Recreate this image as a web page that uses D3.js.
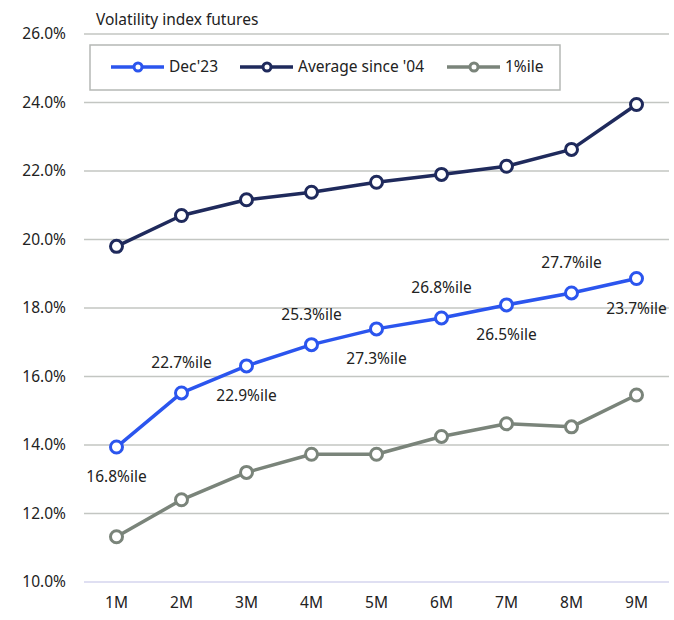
<!DOCTYPE html>
<html><head><meta charset="utf-8">
<script src="https://cdn.jsdelivr.net/npm/d3@7"></script>
<style>body{margin:0;background:#fff}text{font-family:"Noto Sans",Lato,sans-serif}</style>
</head><body><svg id="c" width="674" height="620"></svg>
<script>
const categories = ["1M","2M","3M","4M","5M","6M","7M","8M","9M"];
const dec23 = [13.94,15.52,16.31,16.93,17.39,17.71,18.09,18.44,18.86];
const average04 = [19.80,20.70,21.16,21.38,21.67,21.90,22.14,22.63,23.94];
const pct1 = [11.32,12.40,13.20,13.73,13.73,14.25,14.62,14.53,15.46];
const dec23Labels = ["16.8%ile","22.7%ile","22.9%ile","25.3%ile","27.3%ile","26.8%ile","26.5%ile","27.7%ile","23.7%ile"];
const yTicks = [10,12,14,16,18,20,22,24,26];
const seriesNames = ["Dec'23","Average since '04","1%ile"];
const colors = ["#2b55ee","#1f2a5c","#7a847a"];

const svg = d3.select("#c");
const x = d3.scaleBand().domain(categories).range([84,669]);
const y = d3.scaleLinear().domain([10,26]).range([582,34]);
const cx = d => x(d)+x.bandwidth()/2;
const FS = 15.5;

svg.append("g").selectAll("line").data(yTicks).join("line")
  .attr("x1",84).attr("x2",669).attr("y1",d=>y(d)).attr("y2",d=>y(d))
  .attr("stroke",d=>d===10?"#d4d4ee":"#c3c6c2").attr("stroke-width",1.5);

svg.append("g").selectAll("text").data(yTicks).join("text")
  .attr("x",66).attr("y",d=>y(d)).attr("dy","0.35em").attr("text-anchor","end")
  .attr("font-size",FS).attr("fill","#222").text(d=>d.toFixed(1)+"%");
svg.append("g").selectAll("text").data(categories).join("text")
  .attr("x",d=>cx(d)).attr("y",608).attr("text-anchor","middle")
  .attr("font-size",FS).attr("fill","#222").text(d=>d);

svg.append("text").attr("x",96).attr("y",25).attr("font-size",FS).attr("fill","#222").text("Volatility index futures");

const series = [dec23, average04, pct1];
const line = d3.line().x((d,i)=>cx(categories[i])).y(d=>y(d));
[2,1,0].forEach(k=>{
  const g = svg.append("g");
  g.append("path").datum(series[k]).attr("d",line).attr("fill","none")
    .attr("stroke",colors[k]).attr("stroke-width",3.5).attr("stroke-linejoin","round");
  g.selectAll("circle").data(series[k]).join("circle")
    .attr("cx",(d,i)=>cx(categories[i])).attr("cy",d=>y(d)).attr("r",6)
    .attr("fill","#fff").attr("stroke",colors[k]).attr("stroke-width",3);
});

svg.append("g").selectAll("text").data(dec23Labels).join("text")
  .attr("x",(d,i)=>cx(categories[i])).attr("y",(d,i)=>y(dec23[i])+(i%2===0?30:-30))
  .attr("dy","0.35em").attr("text-anchor","middle").attr("font-size",FS).attr("fill","#222").text(d=>d);

const lg = svg.append("g");
lg.append("rect").attr("x",90).attr("y",45).attr("width",470).attr("height",45)
  .attr("fill","#fff").attr("stroke","#b5b8b5").attr("stroke-width",1.5);
const lx = [111,240,447];
seriesNames.forEach((n,k)=>{
  lg.append("line").attr("x1",lx[k]).attr("x2",lx[k]+53).attr("y1",67).attr("y2",67)
    .attr("stroke",colors[k]).attr("stroke-width",3.5);
  lg.append("circle").attr("cx",lx[k]+27).attr("cy",67).attr("r",4)
    .attr("fill","#fff").attr("stroke",colors[k]).attr("stroke-width",3);
  lg.append("text").attr("x",lx[k]+58).attr("y",67).attr("dy","0.35em")
    .attr("font-size",FS).attr("fill","#222").text(n);
});
</script></body></html>
